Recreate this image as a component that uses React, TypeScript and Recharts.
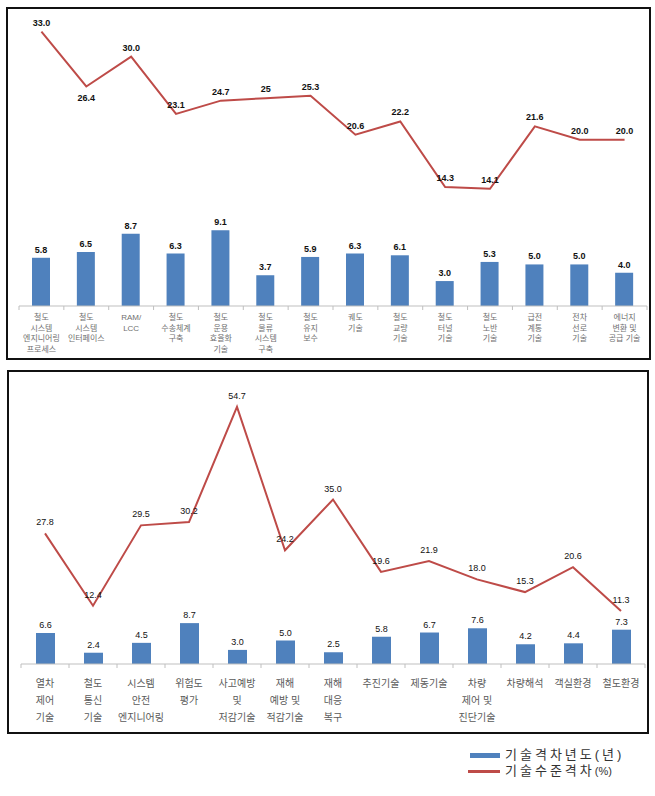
import React from 'react';
import { ComposedChart, Bar, Line, XAxis, YAxis, LabelList } from 'recharts';

const topCategories = [
  '철도\n시스템\n엔지니어링\n프로세스',
  '철도\n시스템\n인터페이스',
  'RAM/\nLCC',
  '철도\n수송체계\n구축',
  '철도\n운용\n효율화\n기술',
  '철도\n물류\n시스템\n구축',
  '철도\n유지\n보수',
  '궤도\n기술',
  '철도\n교량\n기술',
  '철도\n터널\n기술',
  '철도\n노반\n기술',
  '급전\n계통\n기술',
  '전차\n선로\n기술',
  '에너지\n변환 및\n공급 기술',
];
const topGap = [33.0, 26.4, 30.0, 23.1, 24.7, 25, 25.3, 20.6, 22.2, 14.3, 14.1, 21.6, 20.0, 20.0];
const topGapLabels = ['33.0', '26.4', '30.0', '23.1', '24.7', '25', '25.3', '20.6', '22.2', '14.3', '14.1', '21.6', '20.0', '20.0'];
const topYears = [5.8, 6.5, 8.7, 6.3, 9.1, 3.7, 5.9, 6.3, 6.1, 3.0, 5.3, 5.0, 5.0, 4.0];

const botCategories = [
  '열차\n제어\n기술',
  '철도\n통신\n기술',
  '시스템\n안전\n엔지니어링',
  '위험도\n평가',
  '사고예방\n및\n저감기술',
  '재해\n예방 및\n적감기술',
  '재해\n대응\n복구',
  '추진기술',
  '제동기술',
  '차량\n제어 및\n진단기술',
  '차량해석',
  '객실환경',
  '철도환경',
];
const botGap = [27.8, 12.4, 29.5, 30.2, 54.7, 24.2, 35.0, 19.6, 21.9, 18.0, 15.3, 20.6, 11.3];
const botYears = [6.6, 2.4, 4.5, 8.7, 3.0, 5.0, 2.5, 5.8, 6.7, 7.6, 4.2, 4.4, 7.3];

const FONT = "'Liberation Sans', Arial, 'Noto Sans CJK KR', sans-serif";
const BLUE = '#4f81bd';
const RED = '#be4b48';
const AXIS = '#bfbfbf';

const topData = topCategories.map((c, i) => ({ name: c, gap: topGap[i], years: topYears[i] }));
const botData = botCategories.map((c, i) => ({ name: c, gap: botGap[i], years: botYears[i] }));

function makeTick(fontSize: number, lineH: number, firstOffset: number, color: string) {
  return (props: any) => {
    const { x, y, payload, index, visibleTicksCount, width } = props;
    const lines = String(payload.value).split('\n');
    const half =
      payload.offset && payload.offset > 0
        ? payload.offset
        : width && visibleTicksCount
        ? width / visibleTicksCount / 2
        : 22;
    return (
      <g>
        <line x1={x - half} x2={x - half} y1={y} y2={y + 4} stroke={AXIS} strokeWidth={1} />
        {index === visibleTicksCount - 1 && (
          <line x1={x + half} x2={x + half} y1={y} y2={y + 4} stroke={AXIS} strokeWidth={1} />
        )}
        <text textAnchor="middle" fontSize={fontSize} fill={color} fontFamily={FONT}>
          {lines.map((l, i) => (
            <tspan key={i} x={x} y={y + firstOffset + i * lineH}>
              {l}
            </tspan>
          ))}
        </text>
      </g>
    );
  };
}

const topTick = makeTick(8, 10.7, 14, '#707070');
const botTick = makeTick(10, 17, 23, '#5a5a5a');

function barLabel(weight: string | number) {
  return (p: any) => (
    <text
      x={p.x + p.width / 2}
      y={p.y - 5}
      textAnchor="middle"
      fontSize={9}
      fontWeight={weight}
      fill="#111"
      fontFamily={FONT}
    >
      {Number(p.value).toFixed(1)}
    </text>
  );
}

const topLineLabel = (p: any) => (
  <text
    x={p.x}
    y={p.index === 1 ? p.y + 14 : p.y - 6}
    textAnchor="middle"
    fontSize={9}
    fontWeight="bold"
    fill="#111"
    fontFamily={FONT}
  >
    {topGapLabels[p.index]}
  </text>
);

const botLineLabel = (p: any) => (
  <text
    x={p.x}
    y={p.y - 8}
    textAnchor="middle"
    fontSize={9}
    fill="#111"
    fontFamily={FONT}
  >
    {Number(p.value).toFixed(1)}
  </text>
);

export default function App() {
  return (
    <div
      style={{
        position: 'absolute',
        left: 0,
        top: 0,
        width: 655,
        height: 796,
        background: '#fff',
        fontFamily: FONT,
        overflow: 'hidden',
      }}
    >
      <div style={{ position: 'absolute', left: 0, top: 0 }}>
        <ComposedChart width={655} height={365} data={topData} margin={{ top: 15, right: 8, left: 19, bottom: 0 }}>
          <XAxis
            dataKey="name"
            interval={0}
            height={59}
            tickLine={false}
            tickSize={0}
            tickMargin={0}
            axisLine={{ stroke: AXIS }}
            tick={topTick}
          />
          <YAxis hide domain={[0, 35]} />
          <Bar dataKey="years" fill={BLUE} barSize={18} isAnimationActive={false}>
            <LabelList dataKey="years" content={barLabel('bold')} />
          </Bar>
          <Line
            type="linear"
            dataKey="gap"
            stroke={RED}
            strokeWidth={2}
            dot={false}
            activeDot={false}
            isAnimationActive={false}
          >
            <LabelList dataKey="gap" content={topLineLabel} />
          </Line>
        </ComposedChart>
      </div>

      <div style={{ position: 'absolute', left: 0, top: 360 }}>
        <ComposedChart width={655} height={380} data={botData} margin={{ top: 22, right: 10, left: 21, bottom: 0 }}>
          <XAxis
            dataKey="name"
            interval={0}
            height={76}
            tickLine={false}
            tickSize={0}
            tickMargin={0}
            axisLine={{ stroke: AXIS }}
            tick={botTick}
          />
          <YAxis hide domain={[0, 60]} />
          <Bar dataKey="years" fill={BLUE} barSize={19} isAnimationActive={false}>
            <LabelList dataKey="years" content={barLabel('normal')} />
          </Bar>
          <Line
            type="linear"
            dataKey="gap"
            stroke={RED}
            strokeWidth={2}
            dot={false}
            activeDot={false}
            isAnimationActive={false}
          >
            <LabelList dataKey="gap" content={botLineLabel} />
          </Line>
        </ComposedChart>
      </div>

      <div
        style={{
          position: 'absolute',
          left: 6,
          top: 7,
          width: 645,
          height: 353,
          border: '2px solid #111',
          boxSizing: 'border-box',
          pointerEvents: 'none',
        }}
      />
      <div
        style={{
          position: 'absolute',
          left: 7,
          top: 370,
          width: 642,
          height: 364,
          border: '2px solid #111',
          boxSizing: 'border-box',
          pointerEvents: 'none',
        }}
      />

      <div style={{ position: 'absolute', left: 470, top: 753, width: 30, height: 5, background: BLUE }} />
      <div
        style={{
          position: 'absolute',
          left: 505,
          top: 746,
          fontSize: 13,
          letterSpacing: 3,
          color: '#333',
          lineHeight: '18px',
          whiteSpace: 'nowrap',
        }}
      >
        기술격차년도(년)
      </div>
      <div style={{ position: 'absolute', left: 468, top: 770, width: 32, height: 3, background: RED }} />
      <div
        style={{
          position: 'absolute',
          left: 505,
          top: 762,
          fontSize: 13,
          letterSpacing: 3,
          color: '#333',
          lineHeight: '18px',
          whiteSpace: 'nowrap',
        }}
      >
        기술수준격차<span style={{ fontSize: 11, letterSpacing: 0 }}>(%)</span>
      </div>
    </div>
  );
}
